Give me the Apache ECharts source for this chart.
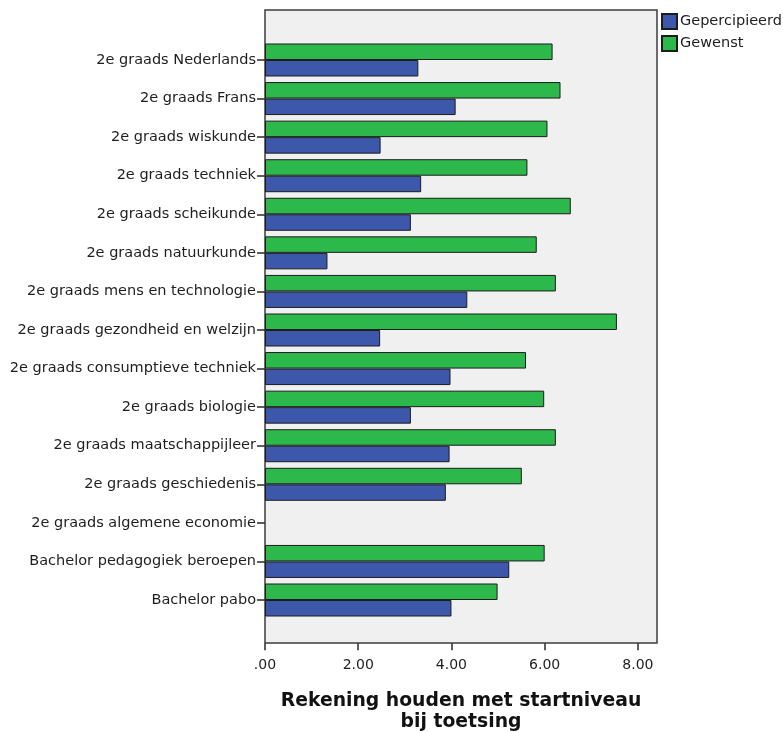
<!DOCTYPE html>
<html>
<head>
<meta charset="utf-8">
<style>
  html, body { margin: 0; padding: 0; background: #ffffff; }
  #chart { width: 783px; height: 733px; }
</style>
<script src="https://cdn.jsdelivr.net/npm/echarts@6/dist/echarts.min.js"></script>
</head>
<body>
<div id="chart"></div>
<script>
// Study programmes shown on the category axis (top to bottom)
const categories = [
  '2e graads Nederlands',
  '2e graads Frans',
  '2e graads wiskunde',
  '2e graads techniek',
  '2e graads scheikunde',
  '2e graads natuurkunde',
  '2e graads mens en technologie',
  '2e graads gezondheid en welzijn',
  '2e graads consumptieve techniek',
  '2e graads biologie',
  '2e graads maatschappijleer',
  '2e graads geschiedenis',
  '2e graads algemene economie',
  'Bachelor pedagogiek beroepen',
  'Bachelor pabo'
];

// Perceived score per programme
const gepercipieerd = [3.29, 4.09, 2.48, 3.35, 3.13, 1.34, 4.34, 2.47, 3.98, 3.13, 3.96, 3.88, null, 5.24, 4.00];

// Desired score per programme
const gewenst = [6.17, 6.34, 6.06, 5.63, 6.56, 5.83, 6.24, 7.55, 5.60, 5.99, 6.24, 5.51, null, 6.00, 4.99];

// Tick values on the value axis
const xTicks = [0, 2, 4, 6, 8];

const axisTitle = 'Rekening houden met startniveau\nbij toetsing';

const chart = echarts.init(document.getElementById('chart'), null, { renderer: 'canvas' });

const fontFamily = 'DejaVu Sans';
const textColor = '#1e1e1e';
const frame = { left: 265, top: 10, width: 392, height: 633 };

chart.setOption({
  animation: false,
  backgroundColor: '#ffffff',
  graphic: [{
    type: 'rect',
    z: -10,
    silent: true,
    shape: { x: frame.left, y: frame.top, width: frame.width, height: frame.height },
    style: { fill: '#f0f0f0', stroke: '#3c3c3c', lineWidth: 1.5 }
  }],
  legend: {
    orient: 'vertical',
    left: 656,
    top: 8,
    itemWidth: 15,
    itemHeight: 15,
    itemGap: 5,
    icon: 'rect',
    data: ['Gepercipieerd', 'Gewenst'],
    textStyle: { fontFamily: fontFamily, fontSize: 14.5, color: textColor, padding: [0, 0, 0, -2] }
  },
  grid: {
    left: frame.left,
    top: 40.7,
    width: frame.width,
    height: 578.6,
    containLabel: false,
    outerBoundsMode: 'none'
  },
  xAxis: {
    type: 'value',
    min: 0,
    max: 8.41,
    interval: 2,
    offset: 24,
    splitLine: { show: false },
    axisLine: { show: false },
    axisTick: {
      show: true,
      length: 7,
      customValues: xTicks,
      lineStyle: { color: '#2a2a2a', width: 1.5 }
    },
    axisLabel: {
      customValues: xTicks,
      margin: 15,
      fontFamily: fontFamily,
      fontSize: 14,
      color: textColor,
      formatter: v => v.toFixed(2).replace(/^0\./, '.')
    },
    name: axisTitle,
    nameLocation: 'middle',
    nameGap: 48,
    nameTextStyle: {
      fontFamily: fontFamily,
      fontSize: 18.8,
      fontWeight: 'bold',
      color: '#111111',
      lineHeight: 20.5
    }
  },
  yAxis: {
    type: 'category',
    data: categories,
    inverse: true,
    axisLine: { show: false },
    axisTick: {
      show: true,
      alignWithLabel: true,
      length: 8,
      lineStyle: { color: '#2a2a2a', width: 1.5 }
    },
    axisLabel: {
      margin: 9,
      fontFamily: fontFamily,
      fontSize: 14.5,
      color: textColor
    }
  },
  series: [
    {
      name: 'Gewenst',
      type: 'bar',
      data: gewenst,
      barWidth: 16.5,
      barGap: '0%',
      itemStyle: { color: '#2db84b', borderColor: '#1c1c1c', borderWidth: 1 }
    },
    {
      name: 'Gepercipieerd',
      type: 'bar',
      data: gepercipieerd,
      barWidth: 16.5,
      barGap: '0%',
      itemStyle: { color: '#3d57ab', borderColor: '#1c1c1c', borderWidth: 1 }
    }
  ]
});
</script>
</body>
</html>
